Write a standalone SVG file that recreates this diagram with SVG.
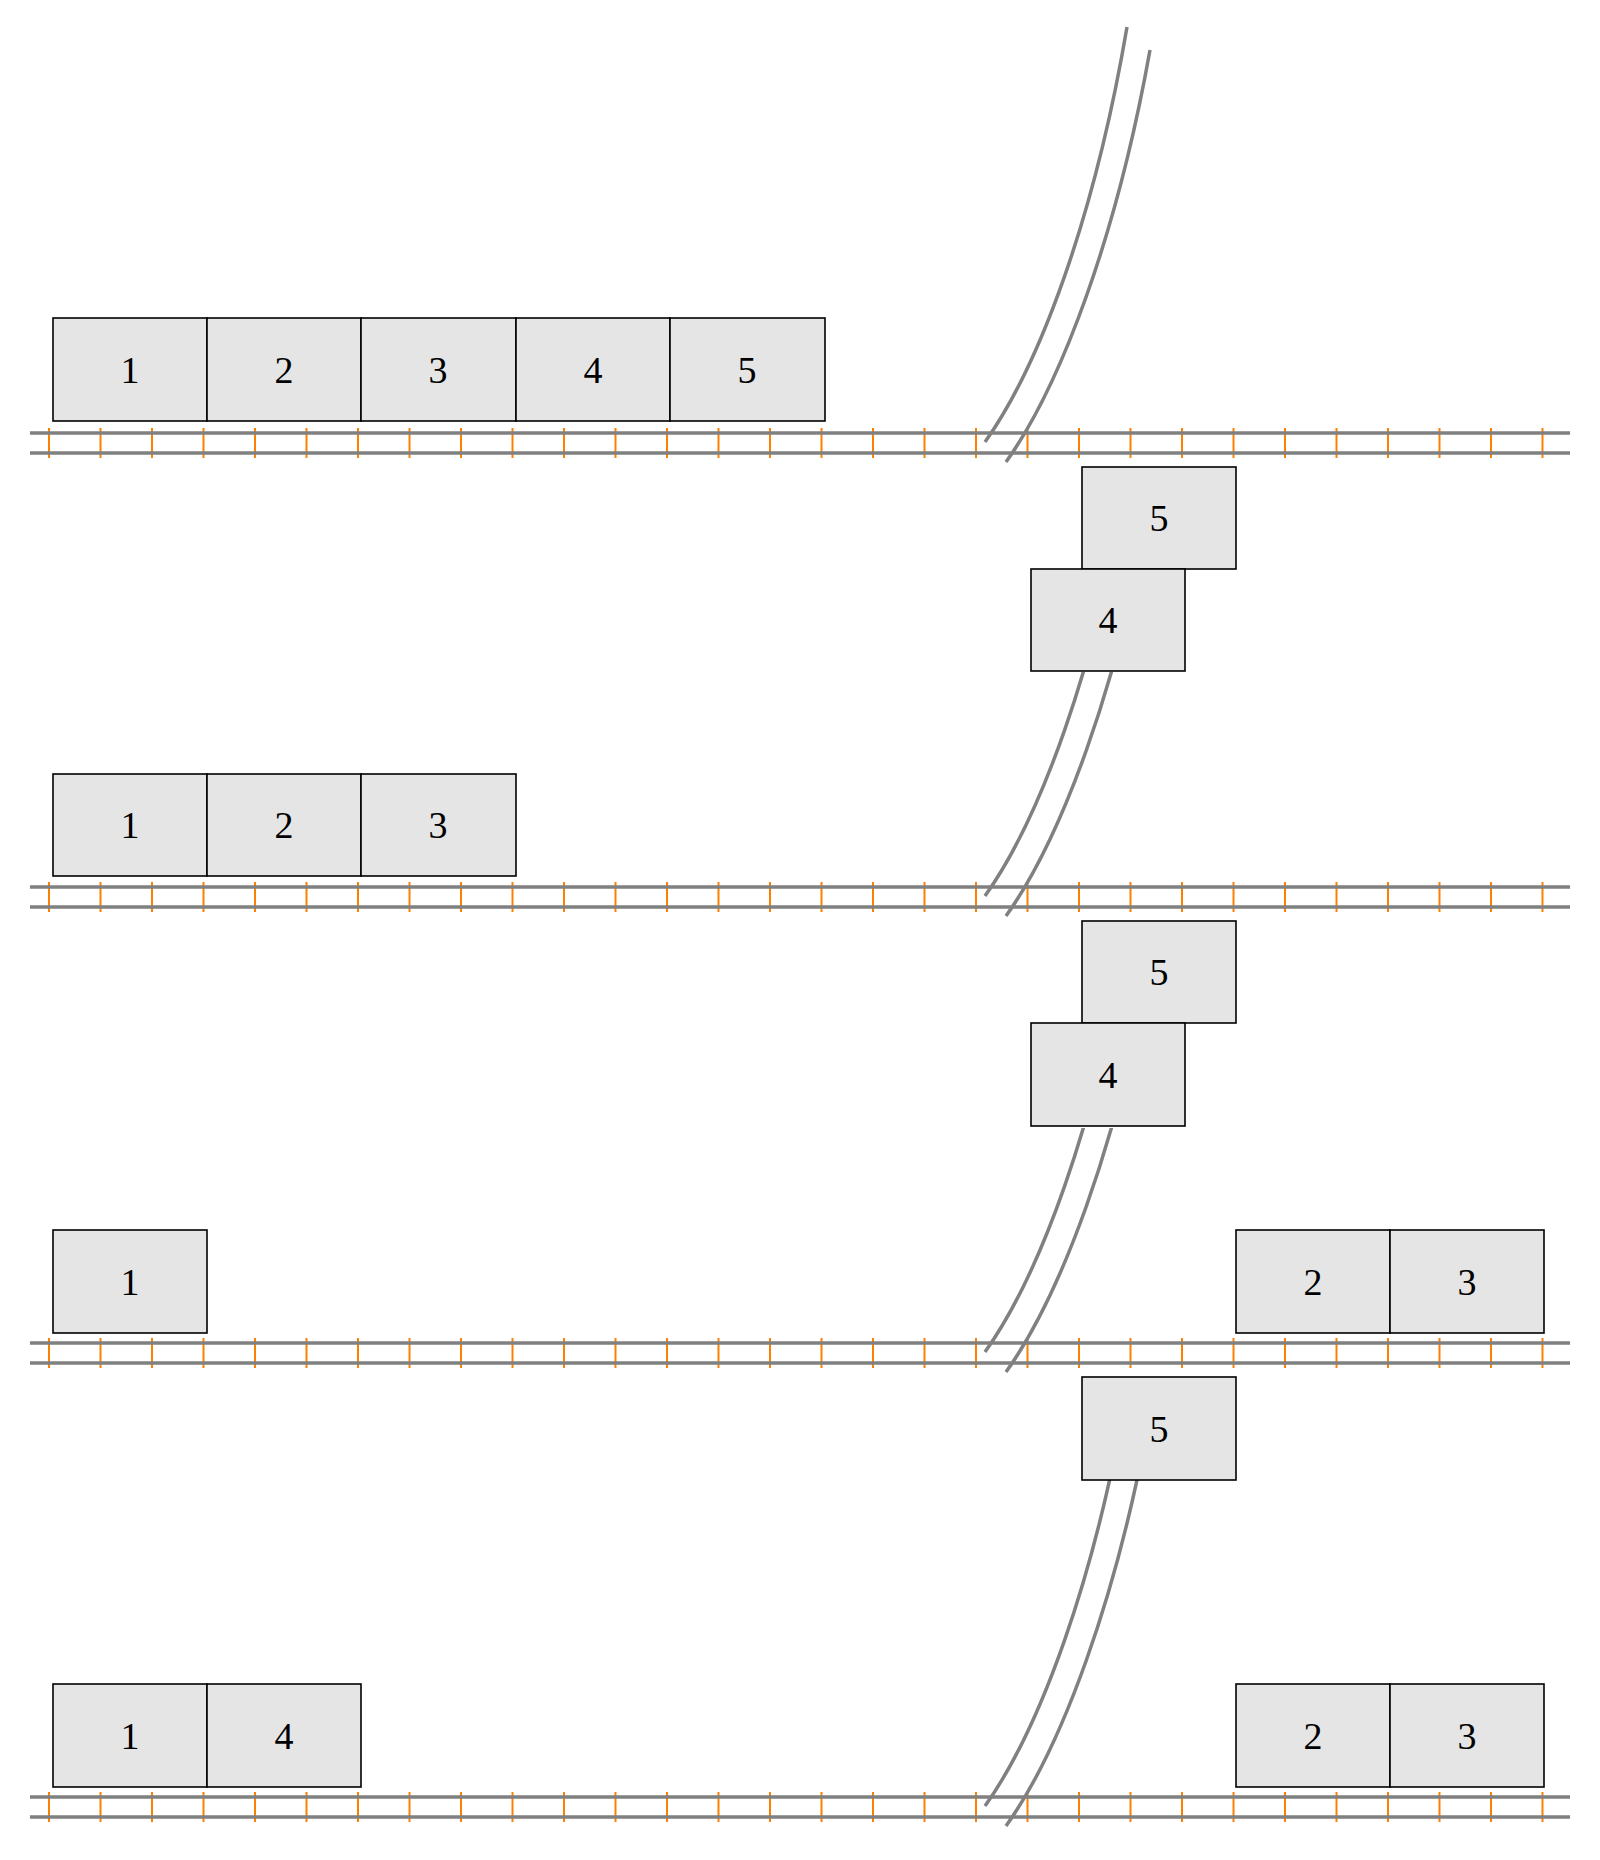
<svg xmlns="http://www.w3.org/2000/svg" xmlns:xlink="http://www.w3.org/1999/xlink" width="1600" height="1860" viewBox="0 0 1600 1860">
<style>
.rail{stroke:#808080;stroke-width:3.5;fill:none}
.tie{stroke:#ff8000;stroke-width:2}
.car{fill:#e5e5e5;stroke:#000;stroke-width:1.6}
.lbl{font-family:"Liberation Serif",serif;font-size:38px;text-anchor:middle;fill:#000}
</style>
<defs>
<g id="track">
<g class="tie">
<path d="M49,-5V25M100.5,-5V25M152,-5V25M203.5,-5V25M255,-5V25M306.5,-5V25M358,-5V25M409.5,-5V25M461,-5V25M512.5,-5V25M564,-5V25M615.5,-5V25M667,-5V25M718.5,-5V25M770,-5V25M821.5,-5V25M873,-5V25M924.5,-5V25M976,-5V25M1027.5,-5V25M1079,-5V25M1130.5,-5V25M1182,-5V25M1233.5,-5V25M1285,-5V25M1336.5,-5V25M1388,-5V25M1439.5,-5V25M1491,-5V25M1542.5,-5V25"/>
</g>
<path class="rail" d="M30,0H1570M30,20H1570"/>
</g>
<g id="spur">
<path class="rail" d="M985,9C1040,-68 1095,-218 1127,-406"/>
<path class="rail" d="M1006,29C1061,-48 1117,-198 1150,-383"/>
</g>
<clipPath id="c2"><rect x="900" y="-215" width="400" height="260"/></clipPath>
<clipPath id="c4"><rect x="900" y="-318" width="400" height="363"/></clipPath>
</defs>
<g id="connectors">
<use xlink:href="#track" transform="translate(0,433)"/>
<use xlink:href="#track" transform="translate(0,887)"/>
<use xlink:href="#track" transform="translate(0,1343)"/>
<use xlink:href="#track" transform="translate(0,1797)"/>
<use xlink:href="#spur" transform="translate(0,433)"/>
<g transform="translate(0,887)"><use xlink:href="#spur" clip-path="url(#c2)"/></g>
<g transform="translate(0,1343)"><use xlink:href="#spur" clip-path="url(#c2)"/></g>
<g transform="translate(0,1797)"><use xlink:href="#spur" clip-path="url(#c4)"/></g>
</g>
<g id="row1">
<rect class="car" x="53" y="318" width="154" height="103"/><text class="lbl" x="130" y="383">1</text>
<rect class="car" x="207" y="318" width="154" height="103"/><text class="lbl" x="284" y="383">2</text>
<rect class="car" x="361" y="318" width="155" height="103"/><text class="lbl" x="438" y="383">3</text>
<rect class="car" x="516" y="318" width="154" height="103"/><text class="lbl" x="593" y="383">4</text>
<rect class="car" x="670" y="318" width="155" height="103"/><text class="lbl" x="747" y="383">5</text>
</g>
<g id="hang1">
<rect class="car" x="1082" y="467" width="154" height="102"/><text class="lbl" x="1159" y="531">5</text>
<rect class="car" x="1031" y="569" width="154" height="102"/><text class="lbl" x="1108" y="633">4</text>
</g>
<g id="row2">
<rect class="car" x="53" y="774" width="154" height="102"/><text class="lbl" x="130" y="838">1</text>
<rect class="car" x="207" y="774" width="154" height="102"/><text class="lbl" x="284" y="838">2</text>
<rect class="car" x="361" y="774" width="155" height="102"/><text class="lbl" x="438" y="838">3</text>
</g>
<g id="hang2">
<rect class="car" x="1082" y="921" width="154" height="102"/><text class="lbl" x="1159" y="985">5</text>
<rect class="car" x="1031" y="1023" width="154" height="103"/><text class="lbl" x="1108" y="1088">4</text>
</g>
<g id="row3">
<rect class="car" x="53" y="1230" width="154" height="103"/><text class="lbl" x="130" y="1295">1</text>
<rect class="car" x="1236" y="1230" width="154" height="103"/><text class="lbl" x="1313" y="1295">2</text>
<rect class="car" x="1390" y="1230" width="154" height="103"/><text class="lbl" x="1467" y="1295">3</text>
</g>
<g id="hang3">
<rect class="car" x="1082" y="1377" width="154" height="103"/><text class="lbl" x="1159" y="1442">5</text>
</g>
<g id="row4">
<rect class="car" x="53" y="1684" width="154" height="103"/><text class="lbl" x="130" y="1749">1</text>
<rect class="car" x="207" y="1684" width="154" height="103"/><text class="lbl" x="284" y="1749">4</text>
<rect class="car" x="1236" y="1684" width="154" height="103"/><text class="lbl" x="1313" y="1749">2</text>
<rect class="car" x="1390" y="1684" width="154" height="103"/><text class="lbl" x="1467" y="1749">3</text>
</g>
</svg>
